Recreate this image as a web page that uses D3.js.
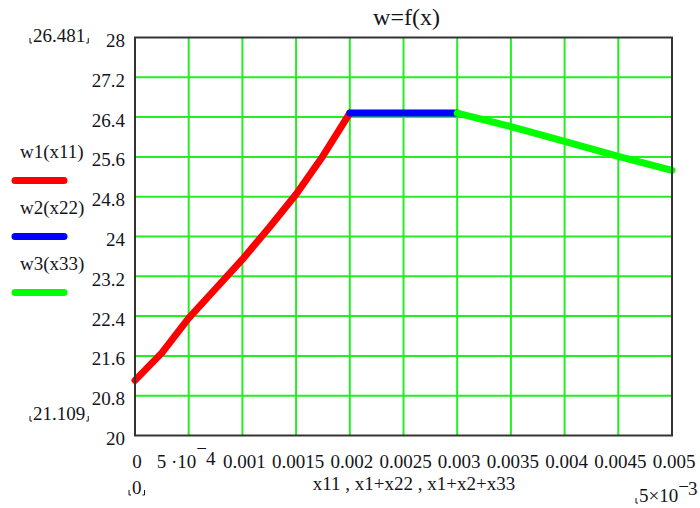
<!DOCTYPE html>
<html>
<head>
<meta charset="utf-8">
<script src="https://cdn.jsdelivr.net/npm/d3@7"></script>
<style>
  body { margin: 0; background: #fff; }
  text { font-family: "Liberation Serif", "Times New Roman", serif; fill: #141420; }
</style>
</head>
<body>
<div id="chart"></div>
<script>
// tick values and labels
const xTicks = [0, 0.0005, 0.001, 0.0015, 0.002, 0.0025, 0.003, 0.0035, 0.004, 0.0045, 0.005];
const xTickLabels = ["0", "5 ·10^−4", "0.001", "0.0015", "0.002", "0.0025", "0.003", "0.0035", "0.004", "0.0045", "0.005"];
const yTicks = [20, 20.8, 21.6, 22.4, 23.2, 24, 24.8, 25.6, 26.4, 27.2, 28];

// series
const w1X = [0, 0.00025, 0.0005, 0.00075, 0.001, 0.00125, 0.0015, 0.00175, 0.002];
const w1Y = [21.109, 21.66, 22.36, 22.95, 23.54, 24.18, 24.85, 25.62, 26.481];
const w2X = [0.002, 0.003];
const w2Y = [26.481, 26.481];
const w3X = [0.003, 0.0035, 0.004, 0.0045, 0.005];
const w3Y = [26.481, 26.21, 25.91, 25.61, 25.33];

const seriesNames = ["w1(x11)", "w2(x22)", "w3(x33)"];
const seriesColors = ["#ff0000", "#0000ff", "#00ff00"];

const width = 700, height = 508;
const margin = { top: 37.5, right: 28, bottom: 72.5, left: 135 };
const innerW = width - margin.left - margin.right,
      innerH = height - margin.top - margin.bottom;

const svg = d3.select("#chart").append("svg")
  .attr("width", width)
  .attr("height", height);

const g = svg.append("g")
  .attr("transform", "translate(" + margin.left + "," + margin.top + ")");

const xScale = d3.scaleLinear().domain([0, 0.005]).range([0, innerW]);
const yScale = d3.scaleLinear().domain([20, 28]).range([innerH, 0]);

// grid
g.append("g").selectAll("line.vg")
  .data(xTicks.slice(1, -1))
  .enter().append("line")
  .attr("x1", d => xScale(d)).attr("x2", d => xScale(d))
  .attr("y1", 0).attr("y2", innerH)
  .attr("stroke", "#22ee22").attr("stroke-width", 2);

g.append("g").selectAll("line.hg")
  .data(yTicks.slice(1, -1))
  .enter().append("line")
  .attr("x1", 0).attr("x2", innerW)
  .attr("y1", d => yScale(d)).attr("y2", d => yScale(d))
  .attr("stroke", "#22ee22").attr("stroke-width", 2);

// series lines
const line = d3.line().x(d => xScale(d[0])).y(d => yScale(d[1]));
const series = [
  d3.zip(w1X, w1Y),
  d3.zip(w2X, w2Y),
  d3.zip(w3X, w3Y)
];
series.forEach((s, i) => {
  g.append("path")
    .datum(s)
    .attr("d", line)
    .attr("fill", "none")
    .attr("stroke", seriesColors[i])
    .attr("stroke-width", 7)
    .attr("stroke-linecap", "round")
    .attr("stroke-linejoin", "round");
});

// frame
g.append("rect")
  .attr("x", 0).attr("y", 0)
  .attr("width", innerW).attr("height", innerH)
  .attr("fill", "none")
  .attr("stroke", "#333").attr("stroke-width", 2);

// y tick labels
g.append("g").selectAll("text")
  .data(yTicks)
  .enter().append("text")
  .attr("x", -10)
  .attr("y", d => yScale(d) + 9.5)
  .attr("text-anchor", "end")
  .style("font-size", "19px")
  .text(d => d3.format("")(d));

// x tick labels
const xl = g.append("g");
xTicks.forEach((t, i) => {
  const lab = xTickLabels[i];
  const txt = xl.append("text")
    .attr("y", innerH + 32.5)
    .style("font-size", "19px");
  if (lab.includes("^")) {
    // mantissa sits left of the tick, exponent to its right
    const parts = lab.split("^");
    txt.attr("x", xScale(t) - 32).attr("text-anchor", "start");
    txt.append("tspan").text(parts[0]);
    txt.append("tspan").attr("dy", -13).text(parts[1][0]);
    txt.append("tspan").attr("dy", 10).attr("dx", -1).text(parts[1].slice(1));
  } else {
    txt.attr("x", xScale(t) + 2).attr("text-anchor", "middle").text(lab);
  }
});

// axis title
svg.append("text")
  .attr("x", 414).attr("y", 490)
  .attr("text-anchor", "middle")
  .style("font-size", "19px")
  .text("x11 , x1+x22 , x1+x2+x33");

// chart title
svg.append("text")
  .attr("x", margin.left + innerW / 2 + 3).attr("y", 25)
  .attr("text-anchor", "middle")
  .style("font-size", "24px")
  .text("w=f(x)");

// legend
seriesNames.forEach((name, i) => {
  const y0 = 158 + i * 56;
  svg.append("text")
    .attr("x", 20).attr("y", y0)
    .style("font-size", "19px")
    .text(name);
  svg.append("line")
    .attr("x1", 15).attr("x2", 64)
    .attr("y1", y0 + 22.5).attr("y2", y0 + 22.5)
    .attr("stroke", seriesColors[i])
    .attr("stroke-width", 7)
    .attr("stroke-linecap", "round");
});

// limit labels with small corner marks
function limitLabel(x, y, label, sup) {
  const t = svg.append("text")
    .attr("x", x).attr("y", y)
    .style("font-size", "19px");
  t.append("tspan").text(label);
  if (sup) {
    t.append("tspan").attr("dy", -9).text(sup[0]);
    t.append("tspan").attr("dy", 2).attr("dx", -1).text(sup.slice(1));
  }
  const w = t.node().getComputedTextLength();
  const c = svg.append("path")
    .attr("fill", "none")
    .attr("stroke", "#141420")
    .attr("stroke-width", 1);
  const l = x - 3, r = x + w + 3;
  let d = "M" + l + "," + (y - 4) + "V" + (y + 1) + "H" + (l + 2);
  if (!sup) d += "M" + (r - 2) + "," + (y + 1) + "H" + r + "V" + (y - 4);
  c.attr("d", d);
}

limitLabel(33, 42, "26.481");
limitLabel(33, 420, "21.109");
limitLabel(132, 494, "0");
limitLabel(639, 502, "5×10", "−3");
</script>
</body>
</html>
